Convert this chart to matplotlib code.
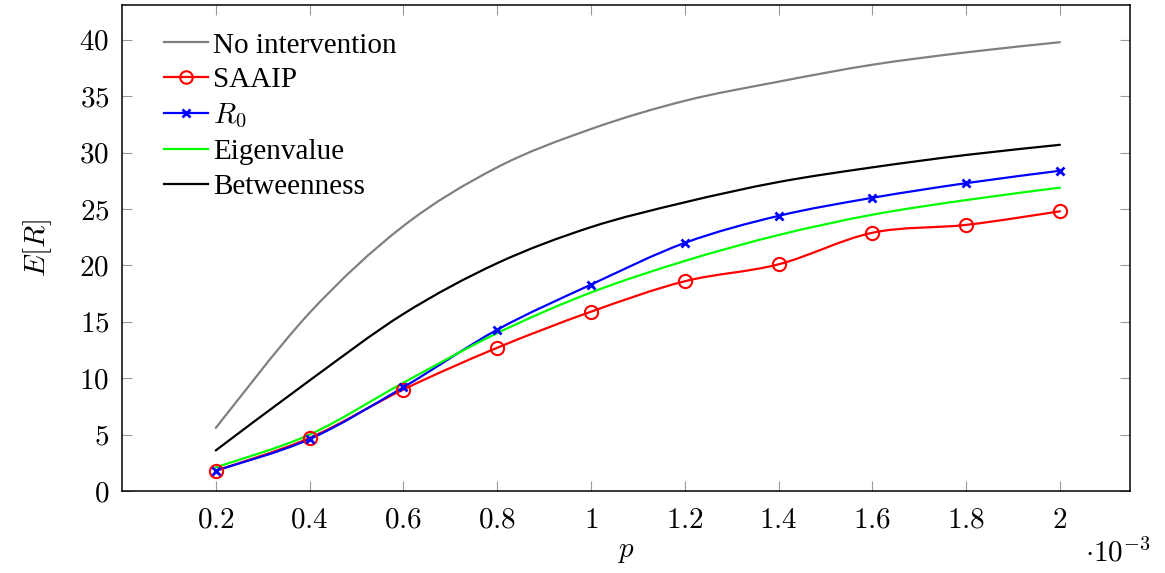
import numpy as np
import matplotlib
matplotlib.use("Agg")
import matplotlib.pyplot as plt
from matplotlib.path import Path
from matplotlib.patches import PathPatch
from matplotlib.lines import Line2D

plt.rcParams['mathtext.fontset'] = 'cm'
plt.rcParams['font.family'] = ['Liberation Serif', 'DejaVu Serif']

p = [0.2, 0.4, 0.6, 0.8, 1.0, 1.2, 1.4, 1.6, 1.8, 2.0]
no_intervention = [5.6, 15.8, 23.5, 28.7, 32.1, 34.6, 36.3, 37.8, 38.9, 39.8]
saaip = [1.8, 4.7, 9.0, 12.7, 15.9, 18.6, 20.1, 22.9, 23.6, 24.8]
r0 = [1.8, 4.6, 9.2, 14.3, 18.3, 22.0, 24.4, 26.0, 27.3, 28.4]
eigenvalue = [2.1, 5.0, 9.6, 14.0, 17.6, 20.4, 22.7, 24.5, 25.8, 26.9]
betweenness = [3.6, 9.8, 15.7, 20.2, 23.4, 25.6, 27.4, 28.7, 29.8, 30.7]

xticks = [0.2, 0.4, 0.6, 0.8, 1.0, 1.2, 1.4, 1.6, 1.8, 2.0]
xticklabels = ['0.2', '0.4', '0.6', '0.8', '1', '1.2', '1.4', '1.6', '1.8', '2']
yticks = [0, 5, 10, 15, 20, 25, 30, 35, 40]

series = [
    ("No intervention", no_intervention, dict(color='#808080', marker=None)),
    ("SAAIP", saaip, dict(color='#ff0000', marker='o')),
    (r"$R_0$", r0, dict(color='#0000ff', marker='x')),
    ("Eigenvalue", eigenvalue, dict(color='#00ff00', marker=None)),
    ("Betweenness", betweenness, dict(color='#000000', marker=None)),
]


def smooth_path(x, y, k=1.0 / 6):
    pts = np.column_stack([x, y]).astype(float)
    n = len(pts)
    verts = [pts[0]]
    codes = [Path.MOVETO]
    for i in range(n - 1):
        p0 = pts[i - 1] if i > 0 else pts[i]
        p1 = pts[i]
        p2 = pts[i + 1]
        p3 = pts[i + 2] if i + 2 < n else pts[i + 1]
        c1 = p1 + (p2 - p0) * k
        c2 = p2 - (p3 - p1) * k
        verts += [c1, c2, p2]
        codes += [Path.CURVE4] * 3
    return Path(verts, codes)


fig = plt.figure(figsize=(11.65, 5.73), dpi=100)
ax = fig.add_axes([0.1047, 0.1431, 0.8655, 0.8482])

lw = 1.6
fs = 21
handles = []
for name, vals, st in series:
    patch = PathPatch(smooth_path(p, vals), facecolor='none', edgecolor=st['color'],
                      lw=lw, zorder=2, joinstyle='round', capstyle='round')
    ax.add_patch(patch)
    if st['marker'] == 'o':
        ax.plot(p, vals, linestyle='none', marker='o', markersize=9.5, markerfacecolor='none',
                markeredgecolor=st['color'], markeredgewidth=1.5, zorder=3)
    elif st['marker'] == 'x':
        ax.plot(p, vals, linestyle='none', marker='x', markersize=6,
                markeredgecolor=st['color'], markeredgewidth=2.0, zorder=4)
    h = Line2D([], [], color=st['color'], lw=lw, marker=st['marker'],
               markersize=9 if st['marker'] == 'o' else 6,
               markerfacecolor='none', markeredgewidth=1.5 if st['marker'] == 'o' else 2.0)
    handles.append(h)

ax.set_xlim(0.0, 2.15)
ax.set_ylim(0, 43.1)
ax.set_xticks(xticks)
ax.set_xticklabels(['$' + t + '$' for t in xticklabels])
ax.set_yticks(yticks)
ax.set_yticklabels(['$%d$' % t for t in yticks])
ax.tick_params(axis='both', direction='in', length=7, width=0.8, color='#9a9a9a',
               top=True, right=True, labelsize=fs)
ax.tick_params(axis='x', pad=12)
ax.tick_params(axis='y', pad=9)
for s in ax.spines.values():
    s.set_linewidth(1.1)

ax.set_xlabel('$p$', fontsize=fs, labelpad=4)
ax.set_ylabel('$E[R]$', fontsize=fs, labelpad=18)
ax.text(1.02, -0.128, r'$\cdot 10^{-3}$', transform=ax.transAxes, fontsize=fs,
        ha='right', va='center')

leg = ax.legend(handles, [s[0] for s in series], loc='upper left', frameon=False,
                fontsize=fs, handlelength=1.5, handletextpad=0.2, labelspacing=0.29,
                bbox_to_anchor=(0.030, 0.968), borderaxespad=0)

fig.savefig('out.png', dpi=100)
